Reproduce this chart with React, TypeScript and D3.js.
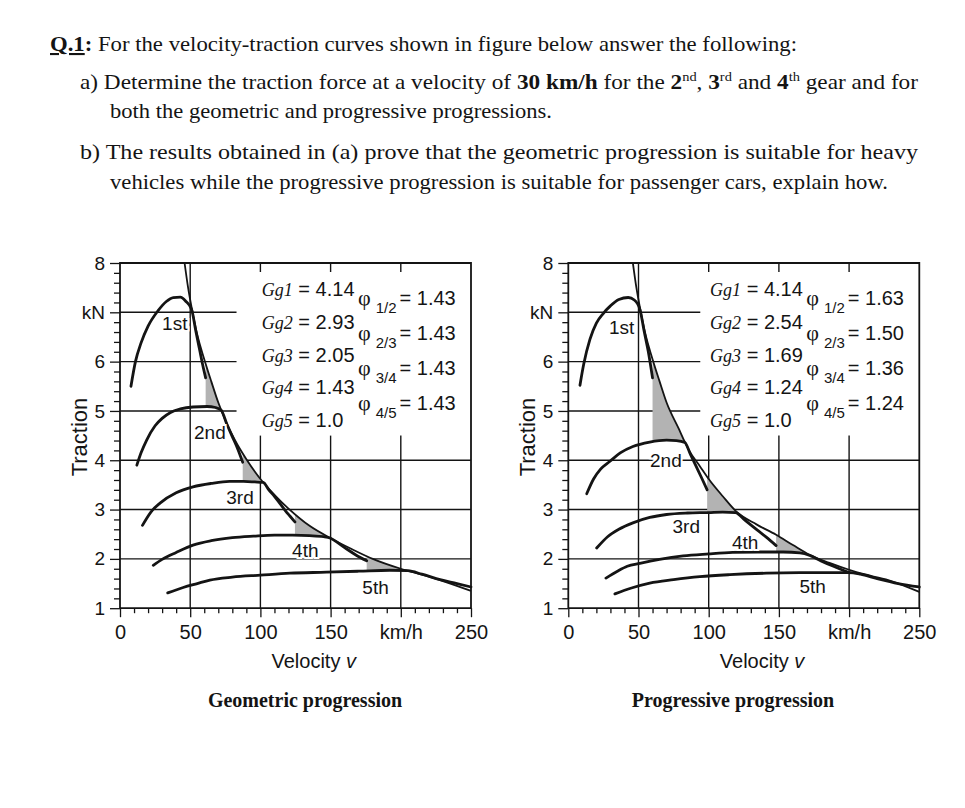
import React, { useEffect, useRef } from 'react';
import * as d3 from 'd3';

type Pt = [number, number];

// velocity (km/h) against traction (kN)
const geoGear1: Pt[] = [[7.8, 5.5], [11, 6.0], [15, 6.38], [20, 6.72], [27, 7.03], [33, 7.22], [38, 7.3], [43, 7.31], [47, 7.22], [51, 7.06], [54, 6.62], [57, 6.2], [59, 5.92], [61, 5.67]];
const geoGear2: Pt[] = [[12, 3.9], [15, 4.15], [19, 4.41], [25, 4.7], [30, 4.85], [36, 4.97], [43, 5.04], [52, 5.08], [62, 5.09], [68, 5.07], [72, 5.02], [76, 4.74], [80, 4.48], [84, 4.22], [87.4, 3.96]];
const geoGear3: Pt[] = [[16, 2.68], [22, 2.95], [28.5, 3.13], [40, 3.34], [52, 3.46], [65, 3.53], [78, 3.57], [88, 3.57], [96, 3.56], [102, 3.55], [106, 3.4], [110, 3.27], [114, 3.12], [118, 2.97], [121, 2.87], [124.6, 2.75]];
const geoGear4: Pt[] = [[23.7, 1.87], [30, 1.99], [40, 2.13], [52, 2.28], [65, 2.37], [80, 2.43], [95, 2.46], [110, 2.48], [123, 2.48], [135, 2.47], [145, 2.45], [150, 2.42], [156, 2.31], [162, 2.19], [168, 2.08], [175.7, 1.96]];
const geoGear5: Pt[] = [[34, 1.31], [45, 1.42], [55, 1.5], [64, 1.57], [80, 1.63], [100, 1.67], [121, 1.71], [147, 1.73], [170, 1.75], [192, 1.77], [205, 1.76], [215, 1.69], [228, 1.58], [240, 1.5], [250, 1.43]];
const geoEnvelope: Pt[] = [[46, 8.0], [48.5, 7.5], [51, 7.1], [55, 6.55], [60, 6.05], [65, 5.6], [70, 5.17], [76, 4.75], [82, 4.4], [90, 4.02], [100, 3.62], [110, 3.3], [120, 3.02], [135, 2.67], [150, 2.42], [165, 2.2], [180, 2.0], [200, 1.8], [215, 1.68], [230, 1.55], [250, 1.35]];
const geoRatios = ['4.14', '2.93', '2.05', '1.43', '1.0'];
const geoSteps = ['1.43', '1.43', '1.43', '1.43'];

// same for the right panel
const progGear1: Pt[] = [[8.3, 5.52], [11, 5.95], [15.4, 6.45], [20, 6.78], [25, 6.98], [30, 7.13], [36, 7.26], [42.7, 7.3], [47, 7.25], [51, 7.06], [54, 6.62], [57, 6.2], [60, 5.67]];
const progGear2: Pt[] = [[13.1, 3.32], [18, 3.62], [23, 3.82], [29.7, 3.98], [37, 4.15], [46, 4.28], [58, 4.37], [70, 4.41], [77, 4.4], [83, 4.36], [87, 4.12], [91, 3.88], [95, 3.64], [98.9, 3.4]];
const progGear3: Pt[] = [[20.2, 2.22], [28, 2.45], [36, 2.6], [46, 2.73], [58, 2.84], [70, 2.9], [85, 2.93], [100, 2.94], [110, 2.95], [119, 2.94], [126, 2.78], [134, 2.6], [141, 2.44], [148, 2.27]];
const progGear4: Pt[] = [[26.8, 1.61], [35, 1.75], [42, 1.85], [51, 1.91], [65, 1.99], [81.8, 2.06], [100, 2.1], [117, 2.13], [135, 2.14], [153, 2.14], [165, 2.12], [172, 2.07], [180, 1.96], [188, 1.86], [194, 1.79], [200.4, 1.72]];
const progGear5: Pt[] = [[33.2, 1.29], [45, 1.41], [58, 1.51], [75, 1.58], [93.7, 1.64], [115, 1.68], [141, 1.71], [165, 1.72], [188, 1.72], [200, 1.72], [208, 1.69], [220, 1.6], [235, 1.5], [250, 1.43]];
const progEnvelope: Pt[] = [[46, 8.0], [48.5, 7.5], [51, 7.1], [55, 6.55], [60, 6.05], [65, 5.6], [70, 5.17], [79, 4.62], [83, 4.37], [86, 4.2], [93.7, 3.88], [100, 3.62], [110, 3.27], [120, 2.95], [134, 2.7], [148, 2.49], [160, 2.28], [172, 2.08], [186, 1.92], [200, 1.78], [215, 1.66], [230, 1.55], [250, 1.33]];
const progRatios = ['4.14', '2.54', '1.69', '1.24', '1.0'];
const progSteps = ['1.63', '1.50', '1.36', '1.24'];

const gearNames = ['1st', '2nd', '3rd', '4th', '5th'];
const stepNames = ['1/2', '2/3', '3/4', '4/5'];
const xTicks = [0, 50, 100, 150, 200, 250];
const yTicks = [1, 2, 3, 4, 5, 6, 7, 8];

// where the gear names sit, in chart units
const geoLabelAt: Pt[] = [[39, 6.78], [64, 4.57], [85.5, 3.25], [132, 2.18], [182, 1.41]];
const progLabelAt: Pt[] = [[38, 6.69], [69.5, 4.0], [84, 2.65], [126, 2.33], [174, 1.43]];

const sans = '"Liberation Sans", Arial, Helvetica, sans-serif';
const serif = '"Liberation Serif", "Times New Roman", Times, serif';
const ink = '#141414';

function valueAt(pts: Pt[], v: number) {
    if (v <= pts[0][0]) return pts[0][1];
    for (let i = 1; i < pts.length; i++) {
        if (v <= pts[i][0]) {
            const [a, b] = pts[i - 1];
            const [c, d] = pts[i];
            return b + (d - b) * (v - a) / (c - a);
        }
    }
    return pts[pts.length - 1][1];
}

function drawPanel(root: any, p: any) {
    const x = d3.scaleLinear().domain([0, 250]).range([p.left, p.left + 351]);
    const y = d3.scaleLinear().domain([1, 8]).range([608.2, 263]);
    const g = root.append('g');

    // grid
    const grid = g.append('g').attr('stroke', ink).attr('stroke-width', 1.4);
    grid.selectAll('line.h')
        .data(yTicks.filter(t => t > 1 && t < 8))
        .join('line')
        .attr('class', 'h')
        .attr('x1', x(0))
        .attr('x2', (t: number) => x(t >= 5 ? p.gridStop : 250))
        .attr('y1', (t: number) => y(t))
        .attr('y2', (t: number) => y(t));
    grid.selectAll('line.v')
        .data(xTicks.filter(t => t > 0 && t < 250))
        .join('line')
        .attr('class', 'v')
        .attr('x1', (t: number) => x(t))
        .attr('x2', (t: number) => x(t))
        .attr('y1', y(1))
        .attr('y2', (t: number) => (t === 50 ? y(8) : y(4.5)));
    grid.selectAll('line.t')
        .data(xTicks.filter(t => t > 50 && t < 250))
        .join('line')
        .attr('class', 't')
        .attr('x1', (t: number) => x(t))
        .attr('x2', (t: number) => x(t))
        .attr('y1', y(8))
        .attr('y2', y(8) + 9);

    // gaps between gears under the ideal traction hyperbola
    const area = d3.area<number>();
    for (let i = 0; i < 4; i++) {
        const cur: Pt[] = p.gears[i];
        const next: Pt[] = p.gears[i + 1];
        const from = cur[cur.length - 1][0];
        const vs = d3.range(from, 250, 0.5);
        const gap = vs.map(v => valueAt(p.envelope, v) - valueAt(next, v));
        let stop = gap.findIndex((d, k) => d <= 0.01 || (k + 1 < gap.length && gap[k + 1] > d));
        if (stop < 0) stop = gap.length - 1;
        g.append('path')
            .datum(vs.slice(0, stop + 1))
            .attr('fill', '#b3b3b3')
            .attr('d', area
                .x(v => x(v))
                .y0(v => y(valueAt(next, v)))
                .y1(v => y(Math.max(valueAt(next, v), valueAt(p.envelope, v)))));
    }

    const line = d3.line<Pt>().x(d => x(d[0])).y(d => y(d[1])).curve(d3.curveMonotoneX);
    g.append('path')
        .attr('d', line(p.envelope))
        .attr('fill', 'none')
        .attr('stroke', ink)
        .attr('stroke-width', 1.8);
    g.selectAll('path.gear')
        .data(p.gears)
        .join('path')
        .attr('class', 'gear')
        .attr('d', (d: Pt[]) => line(d))
        .attr('fill', 'none')
        .attr('stroke', ink)
        .attr('stroke-width', 2.8)
        .attr('stroke-linecap', 'round');

    // frame
    g.append('path')
        .attr('d', `M${x(0)},${y(1)}V${y(8)}H${x(250)}V${y(1)}H${x(0)}`)
        .attr('fill', 'none')
        .attr('stroke', ink)
        .attr('stroke-width', 1.8);

    // axes
    const yAxis = g.append('g')
        .attr('transform', `translate(${x(0)},0)`)
        .call(d3.axisLeft(y).tickValues(yTicks).tickSize(10).tickPadding(5)
            .tickFormat(d => (d === 7 ? 'kN' : String(d))));
    const yMinor = g.append('g')
        .attr('transform', `translate(${x(0)},0)`)
        .call(d3.axisLeft(y).tickValues(d3.range(5, 41).filter(k => k % 5 !== 0).map(k => k / 5))
            .tickSize(6).tickFormat(() => ''));
    const xAxis = g.append('g')
        .attr('transform', `translate(0,${y(1)})`)
        .call(d3.axisBottom(x).tickValues(xTicks).tickSize(9).tickPadding(8)
            .tickFormat(d => (d === 200 ? 'km/h' : String(d))));
    const xMinor = g.append('g')
        .attr('transform', `translate(0,${y(1)})`)
        .call(d3.axisBottom(x).tickValues(d3.range(0, 251, 10).filter(v => v % 50 !== 0))
            .tickSize(5).tickFormat(() => ''));
    [yAxis, yMinor, xAxis, xMinor].forEach(a => {
        a.select('.domain').remove();
        a.selectAll('line').attr('stroke', ink).attr('stroke-width', 1.3);
        a.selectAll('text').attr('fill', ink).attr('font-family', sans);
    });
    yAxis.selectAll('text').attr('font-size', 19);
    xAxis.selectAll('text').attr('font-size', 20);

    g.append('text')
        .attr('transform', `translate(${x(0) - 33},437) rotate(-90)`)
        .attr('text-anchor', 'middle')
        .attr('font-family', sans)
        .attr('font-size', 22)
        .attr('fill', ink)
        .text('Traction');
    const vel = g.append('text')
        .attr('x', x(138))
        .attr('y', 668)
        .attr('text-anchor', 'middle')
        .attr('font-family', sans)
        .attr('font-size', 20)
        .attr('fill', ink);
    vel.append('tspan').text('Velocity ');
    vel.append('tspan').attr('font-style', 'italic').text('v');

    // gear names
    g.selectAll('text.gear')
        .data(gearNames)
        .join('text')
        .attr('class', 'gear')
        .attr('x', (d: string, i: number) => x(p.labelAt[i][0]))
        .attr('y', (d: string, i: number) => y(p.labelAt[i][1]))
        .attr('text-anchor', 'middle')
        .attr('dominant-baseline', 'central')
        .attr('font-family', sans)
        .attr('font-size', 19)
        .attr('fill', ink)
        .attr('stroke', '#fff')
        .attr('stroke-width', 4)
        .attr('paint-order', 'stroke')
        .text((d: string) => d);

    // gear ratios and their steps
    p.ratios.forEach((r: string, i: number) => {
        const t = g.append('text')
            .attr('x', x(101))
            .attr('y', y(8) + 33 + i * 32.8)
            .attr('fill', ink);
        t.append('tspan')
            .attr('font-family', serif)
            .attr('font-style', 'italic')
            .attr('font-size', 18)
            .text(`Gg${i + 1}`);
        t.append('tspan')
            .attr('font-family', sans)
            .attr('font-size', 20)
            .text(` = ${r}`);
    });
    p.steps.forEach((s: string, i: number) => {
        const t = g.append('text')
            .attr('x', x(169.5))
            .attr('y', y(8) + 42 + i * 35)
            .attr('font-family', sans)
            .attr('fill', ink);
        t.append('tspan').attr('font-family', serif).attr('font-size', 22).text('φ');
        t.append('tspan').attr('font-size', 15).attr('dx', 5).attr('dy', 8).text(stepNames[i]);
        t.append('tspan').attr('font-size', 20).attr('dx', 3).attr('dy', -8).text(`= ${s}`);
    });

    g.append('text')
        .attr('x', p.captionX)
        .attr('y', 707)
        .attr('text-anchor', 'middle')
        .attr('font-family', serif)
        .attr('font-weight', 'bold')
        .attr('font-size', 20)
        .attr('fill', ink)
        .text(p.caption);
}

export default function App() {
    const plotRef = useRef<SVGGElement>(null);

    useEffect(() => {
        const root = d3.select(plotRef.current);
        root.selectAll('*').remove();
        drawPanel(root, {
            left: 120,
            gears: [geoGear1, geoGear2, geoGear3, geoGear4, geoGear5],
            envelope: geoEnvelope,
            ratios: geoRatios,
            steps: geoSteps,
            labelAt: geoLabelAt,
            gridStop: 83,
            caption: 'Geometric progression',
            captionX: 305,
        });
        drawPanel(root, {
            left: 568.3,
            gears: [progGear1, progGear2, progGear3, progGear4, progGear5],
            envelope: progEnvelope,
            ratios: progRatios,
            steps: progSteps,
            labelAt: progLabelAt,
            gridStop: 94,
            caption: 'Progressive progression',
            captionX: 733,
        });
    }, []);

    const sup = { fontSize: 13, fontWeight: 'normal' as const };

    return (
        <svg width={965} height={808} style={{ position: 'absolute', left: 0, top: 0, background: '#fff' }}>
            <g fontFamily={serif} fontSize={21} fill={ink}>
                <text x={50} y={51} textLength={747} lengthAdjust="spacingAndGlyphs">
                    <tspan fontWeight="bold" textDecoration="underline">Q.1</tspan>
                    <tspan fontWeight="bold">:</tspan>
                    {' For the velocity-traction curves shown in figure below answer the following:'}
                </text>
                <text x={80} y={89} textLength={838} lengthAdjust="spacingAndGlyphs">
                    {'a) Determine the traction force at a velocity of '}
                    <tspan fontWeight="bold">30 km/h</tspan>
                    {' for the '}
                    <tspan fontWeight="bold">2</tspan>
                    <tspan dy={-8} style={sup} fontWeight="bold">nd</tspan>
                    <tspan dy={8}>{', '}</tspan>
                    <tspan fontWeight="bold">3</tspan>
                    <tspan dy={-8} style={sup} fontWeight="bold">rd</tspan>
                    <tspan dy={8}>{' and '}</tspan>
                    <tspan fontWeight="bold">4</tspan>
                    <tspan dy={-8} style={sup} fontWeight="bold">th</tspan>
                    <tspan dy={8}>{' gear and for'}</tspan>
                </text>
                <text x={110} y={118} textLength={442} lengthAdjust="spacingAndGlyphs">
                    both the geometric and progressive progressions.
                </text>
                <text x={80} y={159} textLength={838} lengthAdjust="spacingAndGlyphs">
                    b) The results obtained in (a) prove that the geometric progression is suitable for heavy
                </text>
                <text x={110} y={189} textLength={778} lengthAdjust="spacingAndGlyphs">
                    vehicles while the progressive progression is suitable for passenger cars, explain how.
                </text>
            </g>
            <g ref={plotRef} />
        </svg>
    );
}
